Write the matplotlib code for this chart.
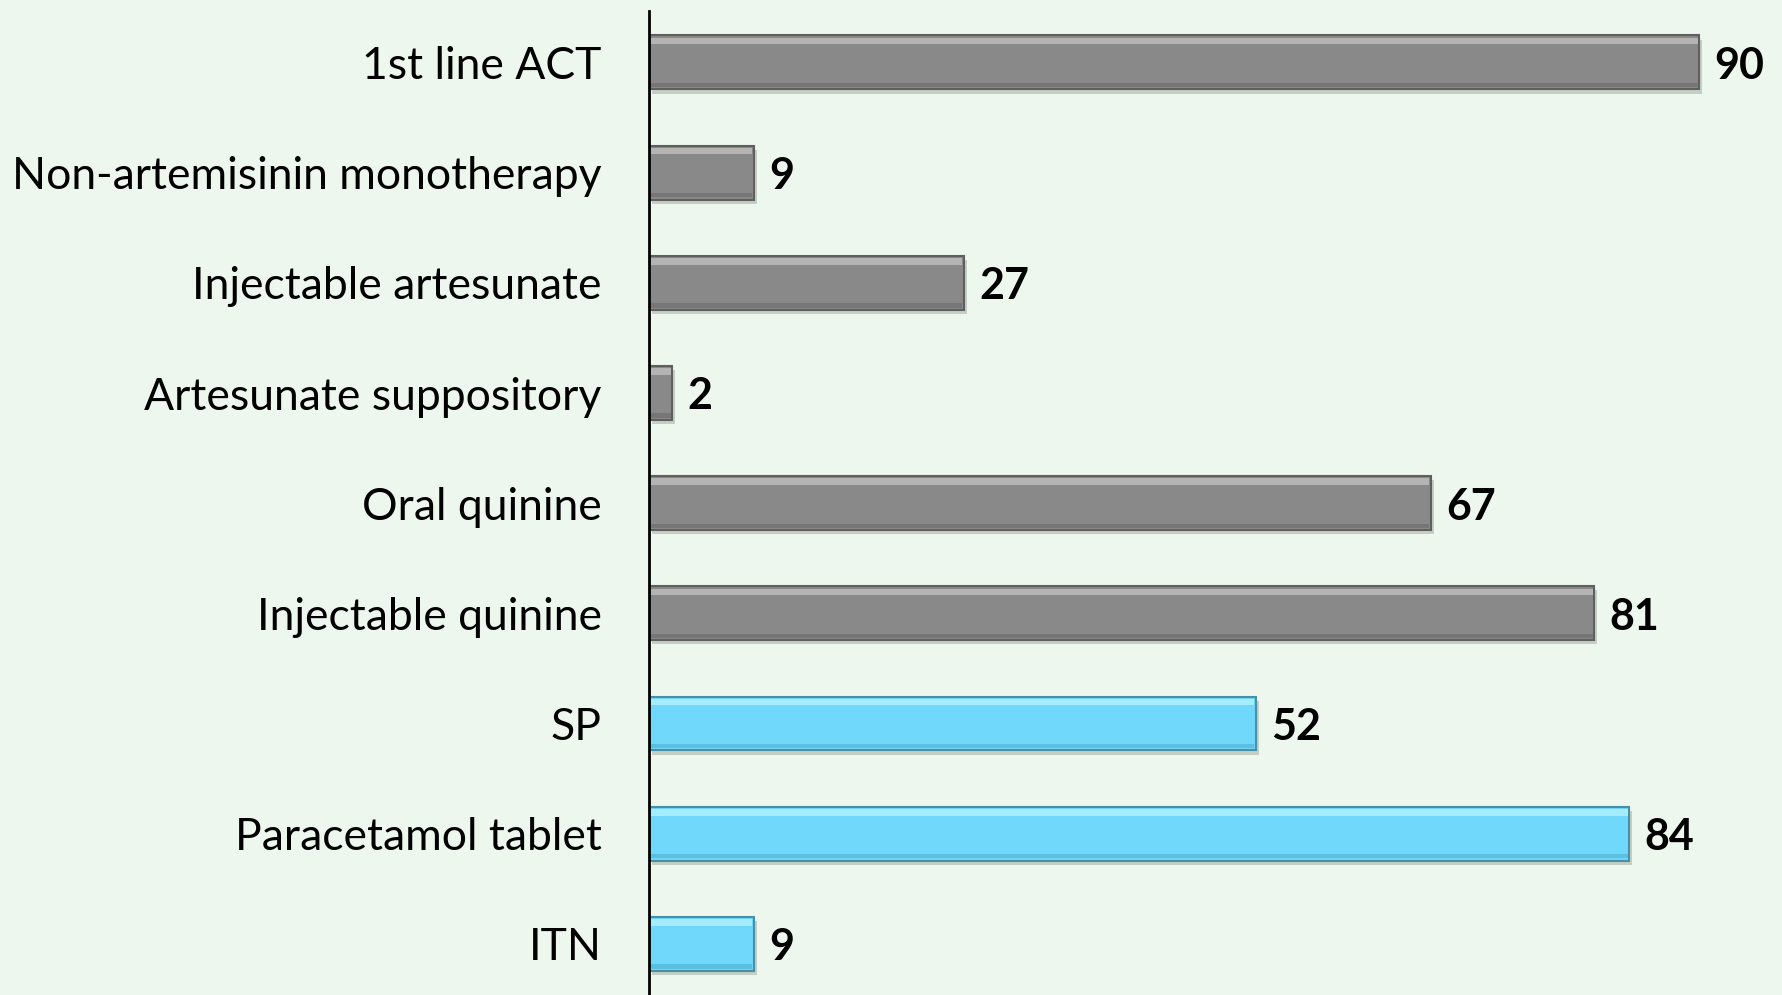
import matplotlib.pyplot as plt
import matplotlib.patheffects as pe

categories = ['1st line ACT', 'Non-artemisinin monotherapy', 'Injectable artesunate',
              'Artesunate suppository', 'Oral quinine', 'Injectable quinine',
              'SP', 'Paracetamol tablet', 'ITN']
values = [90, 9, 27, 2, 67, 81, 52, 84, 9]
groups = ['gray'] * 6 + ['blue'] * 3

face = {'gray': '#898989', 'blue': '#6fd8fb'}
edge = {'gray': '#5f5f5f', 'blue': '#4a8fa8'}
light = {'gray': '#b4b4b4', 'blue': '#a6ecff'}
dark = {'gray': '#767676', 'blue': '#5cbfe0'}

bg = '#edf7ee'
plt.rcParams['font.family'] = ['Lato', 'DejaVu Sans']

fig = plt.figure(figsize=(17.82, 9.951), dpi=100, facecolor=bg)
ax = fig.add_axes([649 / 1782, 0, 1 - 649 / 1782, 1])
ax.set_facecolor(bg)

ys = range(len(categories))
h = 0.49
shadow = [pe.SimplePatchShadow(offset=(2, -3), shadow_rgbFace='#9aa89c', alpha=0.5), pe.Normal()]
for y, v, g in zip(ys, values, groups):
    ax.barh(y, v, height=h, color=face[g], edgecolor=edge[g], linewidth=1.5,
            path_effects=shadow, zorder=2)
    # bevel: light band on top, darker band at bottom
    ax.barh(y - h / 2 + 0.05, v - 0.3, height=0.06, left=0.15, color=light[g],
            linewidth=0, zorder=3)
    ax.barh(y + h / 2 - 0.04, v - 0.3, height=0.04, left=0.15, color=dark[g],
            linewidth=0, zorder=3)
    ax.text(v + 1.3, y + 0.03, str(v), va='center', ha='left', fontsize=31,
            fontweight='bold', color='black')

ax.set_xlim(0, (1782 - 649) / 11.67)
ax.set_ylim(8.464, -0.567)
ax.set_yticks(list(ys))
ax.set_yticklabels(categories, fontsize=32)
ax.tick_params(axis='y', length=0, pad=34)
ax.set_xticks([])
for s in ['top', 'right', 'bottom']:
    ax.spines[s].set_visible(False)
ax.spines['left'].set_linewidth(2)
ax.spines['left'].set_zorder(4)
ax.spines['left'].set_bounds(8.464, -0.464)

fig.savefig('out.png', dpi=100, facecolor=bg)
